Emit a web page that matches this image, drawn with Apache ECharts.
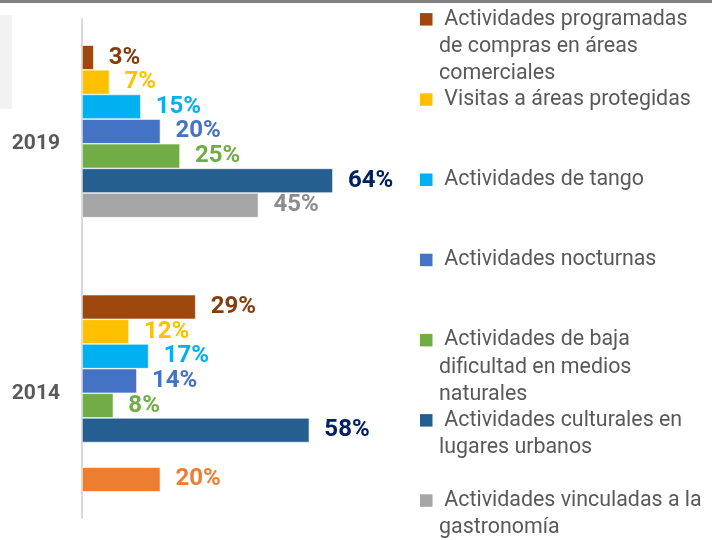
<!DOCTYPE html>
<html><head><meta charset="utf-8">
<script src="https://cdn.jsdelivr.net/npm/echarts@6/dist/echarts.min.js"></script>
<style>html,body{margin:0;padding:0;background:#fff}#c{width:720px;height:540px}</style>
</head><body><div id="c"></div>
<script>
const categories = ['2019', '2014'];
const seriesNames = [
  'Actividades programadas de compras en áreas comerciales',
  'Visitas a áreas protegidas',
  'Actividades de tango',
  'Actividades nocturnas',
  'Actividades de baja dificultad en medios naturales',
  'Actividades culturales en lugares urbanos',
  'Actividades vinculadas a la gastronomía',
  'Otras'
];
const compras = [3, 29];
const protegidas = [7, 12];
const tango = [15, 17];
const nocturnas = [20, 14];
const bajaDificultad = [25, 8];
const culturales = [64, 58];
const gastronomia = [45, null];
const otras = [null, 20];
const legendLines = [
  [' Actividades programadas', 'de compras en áreas', 'comerciales'],
  [' Visitas a áreas protegidas'],
  [' Actividades de tango'],
  [' Actividades nocturnas'],
  [' Actividades de baja', 'dificultad en medios', 'naturales'],
  [' Actividades culturales en', 'lugares urbanos'],
  [' Actividades vinculadas a la', 'gastronomía']
];

const values = [compras, protegidas, tango, nocturnas, bajaDificultad, culturales, gastronomia, otras];
const barColors = ['#9E480E', '#FFC000', '#00B0F0', '#4472C4', '#70AD47', '#255E91', '#A5A5A5', '#ED7D31'];
const labelColors = ['#843C0C', '#FFC000', '#00B0F0', '#4472C4', '#70AD47', '#002060', '#8C8C8C', '#ED7D31'];

const chart = echarts.init(document.getElementById('c'));
const series = values.map((v, i) => ({
  name: seriesNames[i],
  type: 'bar',
  data: v,
  barGap: '0%',
  barCategoryGap: '21%',
  itemStyle: { color: barColors[i], borderColor: '#ffffff', borderWidth: 0.6 },
  label: {
    show: true, position: 'right', distance: 15,
    formatter: p => p.value == null ? '' : p.value + '%',
    color: labelColors[i], fontFamily: 'Roboto', fontWeight: 'bold', fontSize: 24
  },
  z: 3
}));

const graphics = [
  { type: 'rect', shape: { x: 0, y: 0, width: 712, height: 3 }, style: { fill: '#808080' } },
  { type: 'rect', shape: { x: 0, y: 15, width: 12, height: 94 }, style: { fill: '#F2F2F2' } }
];
legendLines.forEach((lines, i) => {
  const cy = 19.3 + 80.2 * i;
  graphics.push({ type: 'rect', shape: { x: 420, y: cy - 6.2, width: 12.5, height: 12.5 }, style: { fill: barColors[i] } });
  graphics.push({
    type: 'text', x: 439, y: cy - 13.6,
    style: {
      text: lines.join('\n'), fill: '#595959', fontFamily: 'Roboto', fontSize: 21.4,
      lineHeight: 27.3, textVerticalAlign: 'top', textAlign: 'left'
    }
  });
});

chart.setOption({
  animation: false,
  grid: { left: 82, top: 19, width: 392, bottom: 22, containLabel: false },
  xAxis: { type: 'value', min: 0, max: 100, show: false },
  yAxis: {
    type: 'category', data: categories, inverse: true,
    axisLine: { show: true, lineStyle: { color: '#D9D9D9', width: 2 } },
    axisTick: { show: false },
    axisLabel: { color: '#595959', fontFamily: 'Roboto', fontWeight: 'bold', fontSize: 21, margin: 22 }
  },
  series: series,
  graphic: graphics
});
</script>
</body></html>
